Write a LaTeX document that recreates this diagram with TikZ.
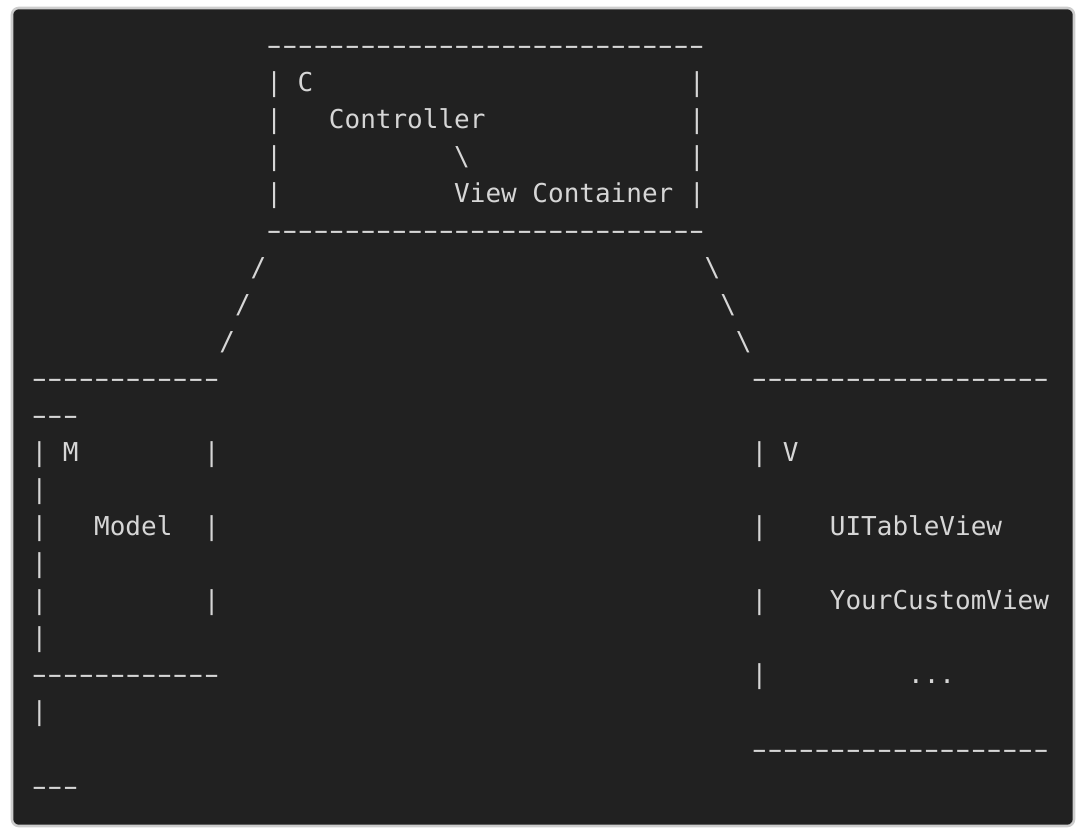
\documentclass[tikz,border=0pt]{standalone}
\usepackage{fontspec}
\setmonofont{DejaVu Sans Mono}
\definecolor{codebg}{HTML}{212121}
\definecolor{codefg}{HTML}{D6D6D6}
\definecolor{rim}{HTML}{CDCDCD}
% a hyphen drawn wider, in the width of one character
\newcommand\hy{\makebox[0.602em][c]{\scalebox{1.7}[1]{-}}}
\newcommand\hyrow[1]{\foreach\k in {1,...,#1}{\hy}}
\tikzset{
    FR/.style ={draw=rim, line width=1.9pt, fill=codebg, rounded corners=5pt},
    TX/.style ={inner sep=0pt, anchor=base west, text=codefg,
                font=\ttfamily\fontsize{19.5}{23}\selectfont}}
\begin{document}
\begin{tikzpicture}[x=0.75pt,y=-0.75pt]
        \useasboundingbox (0,0) rectangle (1083,833);
        \fill[white] (0,0) rectangle (1083,833);
        \draw[FR] (12,8) rectangle (1074,826);
    \begin{scope}[shift={(31.3,54)},x=11.74pt,y=-27.79pt]
        % C box
        \node[TX] (c0) at(15,0){\hyrow{28}};
        \node[TX] (c1) at(15,1){|};
        \node[TX] (c2) at(17,1){C};
        \node[TX] (c3) at(42,1){|};
        \node[TX] (c4) at(15,2){|};
        \node[TX] (c5) at(19,2){Controller};
        \node[TX] (c6) at(42,2){|};
        \node[TX] (c7) at(15,3){|};
        \node[TX] (c8) at(27,3){\textbackslash};
        \node[TX] (c9) at(42,3){|};
        \node[TX] (c10) at(15,4){|};
        \node[TX] (c11) at(27,4){View Container};
        \node[TX] (c12) at(42,4){|};
        \node[TX] (c13) at(15,5){\hyrow{28}};
        % links
        \node[TX] (l1) at(14,6){/};
        \node[TX] (l2) at(13,7){/};
        \node[TX] (l3) at(12,8){/};
        \node[TX] (r1) at(43,6){\textbackslash};
        \node[TX] (r2) at(44,7){\textbackslash};
        \node[TX] (r3) at(45,8){\textbackslash};
        % M box
        \node[TX] (m0) at(0,9){\hyrow{12}};
        \node[TX] (m1) at(0,10){\hyrow{3}};
        \node[TX] (m2) at(0,11){|};
        \node[TX] (m3) at(2,11){M};
        \node[TX] (m4) at(11,11){|};
        \node[TX] (m5) at(0,12){|};
        \node[TX] (m6) at(0,13){|};
        \node[TX] (m7) at(4,13){Model};
        \node[TX] (m8) at(11,13){|};
        \node[TX] (m9) at(0,14){|};
        \node[TX] (m10) at(0,15){|};
        \node[TX] (m11) at(11,15){|};
        \node[TX] (m12) at(0,16){|};
        \node[TX] (m13) at(0,17){\hyrow{12}};
        \node[TX] (m14) at(0,18){|};
        \node[TX] (m15) at(0,20){\hyrow{3}};
        % V box
        \node[TX] (v0) at(46,9){\hyrow{19}};
        \node[TX] (v1) at(46,11){|};
        \node[TX] (v2) at(48,11){V};
        \node[TX] (v3) at(46,13){|};
        \node[TX] (v4) at(51,13){UITableView};
        \node[TX] (v5) at(46,15){|};
        \node[TX] (v6) at(51,15){YourCustomView};
        \node[TX] (v7) at(46,17){|};
        \node[TX] (v8) at(56,17){...};
        \node[TX] (v9) at(46,19){\hyrow{19}};
    \end{scope}
    \end{tikzpicture}
\end{document}
